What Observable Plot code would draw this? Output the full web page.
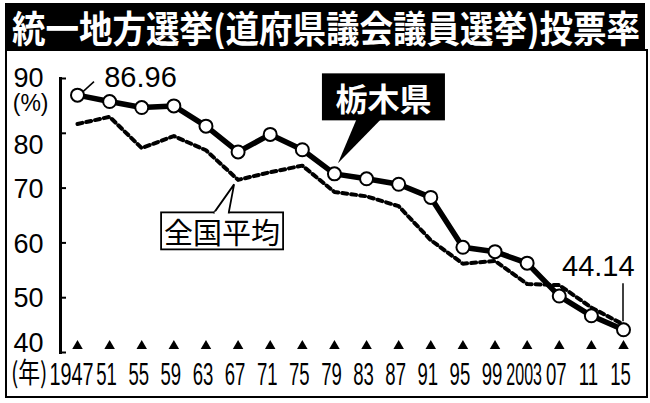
<!DOCTYPE html>
<html><head><meta charset="utf-8">
<script src="https://cdn.jsdelivr.net/npm/d3@7"></script>
<script src="https://cdn.jsdelivr.net/npm/@observablehq/plot@0.6"></script>
<style>
body{margin:0;background:#fff;width:650px;height:403px;overflow:hidden;position:relative;font-family:"Noto Sans CJK JP",sans-serif}
#title{position:absolute;left:5px;top:3px;width:640px;height:47px;background:#000}
#title span{position:absolute;left:7px;top:50%;color:#fff;font-size:37px;font-weight:700;white-space:nowrap;transform-origin:left center;line-height:1;transform:translateY(-50%)}
#frame{position:absolute;left:5px;top:49px;width:643px;height:349px;border:2px solid #000;box-sizing:border-box}
#chart{position:absolute;left:0;top:50px}
</style></head><body>
<div id="title"><span>統一地方選挙(道府県議会議員選挙)投票率</span></div>
<div id="frame"></div>
<div id="chart"></div>
<script>
const titleText = "統一地方選挙(道府県議会議員選挙)投票率";
const years = [1947,1951,1955,1959,1963,1967,1971,1975,1979,1983,1987,1991,1995,1999,2003,2007,2011,2015];
const yearLabels = ["1947","51","55","59","63","67","71","75","79","83","87","91","95","99","2003","07","11","15"];
const tochigi = [86.96,85.8,84.7,85.0,81.3,76.6,79.8,77.0,72.6,71.7,70.7,68.3,59.2,58.4,56.3,50.3,46.7,44.14];
const national = [81.7,83.0,77.3,79.5,76.9,71.5,72.9,74.1,69.3,68.5,66.7,60.5,56.2,56.7,52.5,52.3,48.2,45.1];
const yTicks = [40,50,60,70,80,90];
const seriesNames = ["栃木県","全国平均"];
const yUnit = "(%)";
const xUnit = "(年)";

const span = document.querySelector("#title span");
span.textContent = titleText;

const rows = years.map((y,i)=>({year:y,label:yearLabels[i],tochigi:tochigi[i],national:national[i]}));
const W = 650, H = 353;
const yMin = yTicks[0], yMax = yTicks[yTicks.length-1];
const yLabel = (data, dy) => Plot.text(data, {y: d => d, frameAnchor: "left", dx: -17, dy, textAnchor: "end", fontSize: 27});
const xLabel = (data, dx) => Plot.text(data, {x: "year", text: "label", frameAnchor: "bottom", lineAnchor: "middle", dy: 22, dx, fontSize: 32});
const first = years[0], last = years[years.length - 1];
const plot = Plot.plot({
  width: W, height: H,
  marginLeft: 60, marginTop: 28, marginBottom: 51, marginRight: 20,
  x: {domain: [first, last], range: [77, 623], axis: null},
  y: {domain: [yMin, yMax]},
  style: {background: "transparent", fontFamily: "'Liberation Sans', Arial, sans-serif", color: "#000", overflow: "visible"},
  marks: [
    Plot.frame({anchor: "left", strokeWidth: 3}),
    Plot.axisY(yTicks, {tickSize: -6, strokeWidth: 2, tickFormat: () => "", label: null}),
    yLabel(yTicks.filter(d => d === yMax), 0),
    yLabel(yTicks.filter(d => d === 80), 12),
    yLabel(yTicks.filter(d => d > yMin && d < 80), 1),
    yLabel(yTicks.filter(d => d === yMin), -9),
    Plot.text([yUnit], {y: () => yMax, frameAnchor: "left", dx: -12, dy: 25, textAnchor: "end", fontSize: 23}),
    Plot.text([xUnit], {frameAnchor: "bottom-left", lineAnchor: "middle", dx: -13, dy: 22, textAnchor: "end", fontSize: 28, fontFamily: "Noto Sans CJK JP"}),
    xLabel(rows.filter(d => d.year === first), -6),
    xLabel(rows.filter(d => d.year > first), -3),
    Plot.dot(rows, {x: "year", y: () => yMin, symbol: "triangle", r: 3.9, fill: "black", stroke: "none", dy: -6.5}),
    Plot.line(rows, {x: "year", y: "national", stroke: "black", strokeWidth: 4, strokeDasharray: "5,4"}),
    Plot.line(rows, {x: "year", y: "tochigi", stroke: "black", strokeWidth: 5.5}),
    Plot.dot(rows, {x: "year", y: "tochigi", r: 6.5, fill: "white", stroke: "black", strokeWidth: 2})
  ]
});
document.getElementById("chart").appendChild(plot);

// condensed tick labels: append a horizontal scale to each label's transform
const labelIndex = new Map(yearLabels.map((d, i) => [d, i]));
plot.querySelectorAll("text").forEach(el => {
  const t = el.textContent;
  let f = null;
  if (labelIndex.has(t)) f = t.length > 2 ? (labelIndex.get(t) === 0 ? 0.62 : 0.5) : 0.58;
  else if (t === xUnit) f = 0.78;
  if (f) {
    const tr = el.getAttribute("transform") || "";
    el.setAttribute("transform", `${tr} scale(${f},1)`);
  }
});

// title fit
const tw = span.getBoundingClientRect().width;
span.style.transform = `translateY(-50%) scaleX(${628 / tw})`;

// annotations
const sx = plot.scale("x"), sy = plot.scale("y");
const px = v => sx.apply(v), py = v => sy.apply(v);
const g = d3.select(plot).append("g");

// 栃木県 callout
{
  const i = years.indexOf(1979);
  const ax = px(years[i]), ay = py(tochigi[i]);
  g.append("path").attr("d", `M${ax+4},${ay-10} L${ax+23},${ay-55} L${ax+48},${ay-55} Z`).attr("fill", "black");
  g.append("rect").attr("x", ax-12).attr("y", ay-100).attr("width", 123).attr("height", 47).attr("fill", "black");
  g.append("text").attr("x", ax-12+61.5).attr("y", ay-76.5).attr("text-anchor", "middle").attr("dominant-baseline", "central")
    .attr("fill", "white").attr("font-size", 32).attr("font-weight", "bold").attr("font-family", "Noto Sans CJK JP").text(seriesNames[0]);
}
// 全国平均 callout
{
  const i = years.indexOf(1967);
  const ax = px(years[i]), ay = py(national[i]);
  g.append("rect").attr("x", ax-76.5).attr("y", ay+33).attr("width", 122).attr("height", 37)
    .attr("fill", "white").attr("stroke", "black").attr("stroke-width", 1.8);
  g.append("path").attr("d", `M${ax-24},${ay+34} L${ax-3.5},${ay+5} L${ax-9},${ay+34}`)
    .attr("fill", "white").attr("stroke", "black").attr("stroke-width", 1.8);
  g.append("line").attr("x1", ax-23).attr("x2", ax-10).attr("y1", ay+33.5).attr("y2", ay+33.5).attr("stroke", "white").attr("stroke-width", 2.5);
  g.append("text").attr("x", ax-76.5+61).attr("y", ay+51.5).attr("text-anchor", "middle").attr("dominant-baseline", "central")
    .attr("fill", "black").attr("font-size", 29).attr("font-family", "Noto Sans CJK JP").text(seriesNames[1]);
}
// value labels
{
  const ax = px(years[0]), ay = py(tochigi[0]);
  g.append("line").attr("x1", ax+6).attr("y1", ay-3).attr("x2", ax+17).attr("y2", ay-13).attr("stroke", "black").attr("stroke-width", 1.5);
  g.append("text").attr("x", ax+63.5).attr("y", ay-18).attr("text-anchor", "middle").attr("dominant-baseline", "central")
    .attr("font-size", 29).attr("font-family", "'Liberation Sans', Arial, sans-serif").text(tochigi[0].toFixed(2));
}
{
  const n = years.length - 1;
  const ax = px(years[n]), ay = py(tochigi[n]);
  g.append("line").attr("x1", ax).attr("y1", ay-46).attr("x2", ax).attr("y2", ay-8).attr("stroke", "black").attr("stroke-width", 1.5);
  g.append("text").attr("x", ax-24.7).attr("y", ay-63).attr("text-anchor", "middle").attr("dominant-baseline", "central")
    .attr("font-size", 29).attr("font-family", "'Liberation Sans', Arial, sans-serif").text(tochigi[n].toFixed(2));
}
</script>
</body></html>
